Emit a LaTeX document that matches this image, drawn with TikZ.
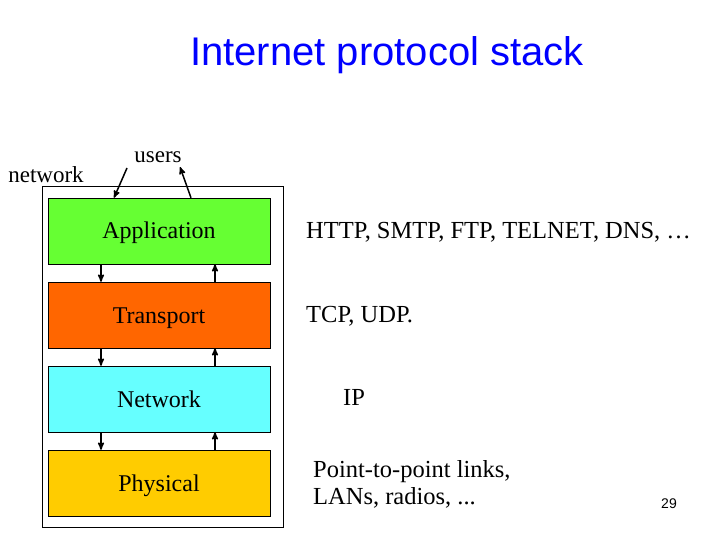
\documentclass[tikz,border=0pt]{standalone}
\usepackage{fontspec}
\setmainfont{Liberation Serif}
\newfontfamily\titlefont{Liberation Sans}
\usetikzlibrary{arrows}
\usetikzlibrary{positioning}

\definecolor{appgreen}{RGB}{102,255,51}
\definecolor{trorange}{RGB}{255,102,0}
\definecolor{netcyan}{RGB}{102,255,255}
\definecolor{phyyellow}{RGB}{255,204,0}

\begin{document}
\begin{tikzpicture}[x=1pt,y=-1pt,
  layer/.style={draw=black, minimum width=222pt, minimum height=66pt, text height=18pt, text depth=2pt, font=\fontsize{24}{28}\selectfont, inner sep=0pt},
  proto/.style={anchor=west, font=\fontsize{24.5}{27}\selectfont, inner sep=0pt, align=left},
  flow/.style={black, line width=1.5pt, ->, >=stealth'}]
\useasboundingbox (0,0) rectangle (720,540);
\node[text=blue, font=\titlefont\fontsize{40}{46}\selectfont] (title) at (387,55) {Internet protocol stack};
\draw[black] (42,186) rectangle (283,527);
\node[layer, fill=appgreen]  (app) at (159,231) {Application};
\node[layer, fill=trorange]  (tr)  at (159,315) {Transport};
\node[layer, fill=netcyan]   (net) at (159,399) {Network};
\node[layer, fill=phyyellow] (phy) at (159,483) {Physical};
\foreach \a/\b in {app/tr, tr/net, net/phy} {
 \draw[flow] ([xshift=-58pt]\a.south) -- ([xshift=-58pt]\b.north);
 \draw[flow] ([xshift=56pt]\b.north) -- ([xshift=56pt]\a.south);
}
\node[font=\fontsize{23}{27}\selectfont, inner sep=0pt] (users) at (158,157) {users};
\node[font=\fontsize{23}{27}\selectfont, inner sep=0pt] (network) at (46,175) {network};
\coordinate (uin) at (127,168);
\coordinate (uout) at (180,167);
\draw[flow] (uin) -- ([xshift=-45pt]app.north);
\draw[flow] ([xshift=32pt]app.north) -- (uout);
\node[proto] (lapp) at (306,232) {HTTP, SMTP, FTP, TELNET, DNS, \dots};
\node[proto] (ltr)  at (306,316) {TCP, UDP.};
\node[proto] (lnet) at (343,397) {IP};
\node[proto] (lphy) at (313,484) {Point-to-point links,\\LANs, radios, ...};
\node[font=\titlefont\fontsize{14}{16}\selectfont] (page) at (669,504) {29};
\end{tikzpicture}
\end{document}
